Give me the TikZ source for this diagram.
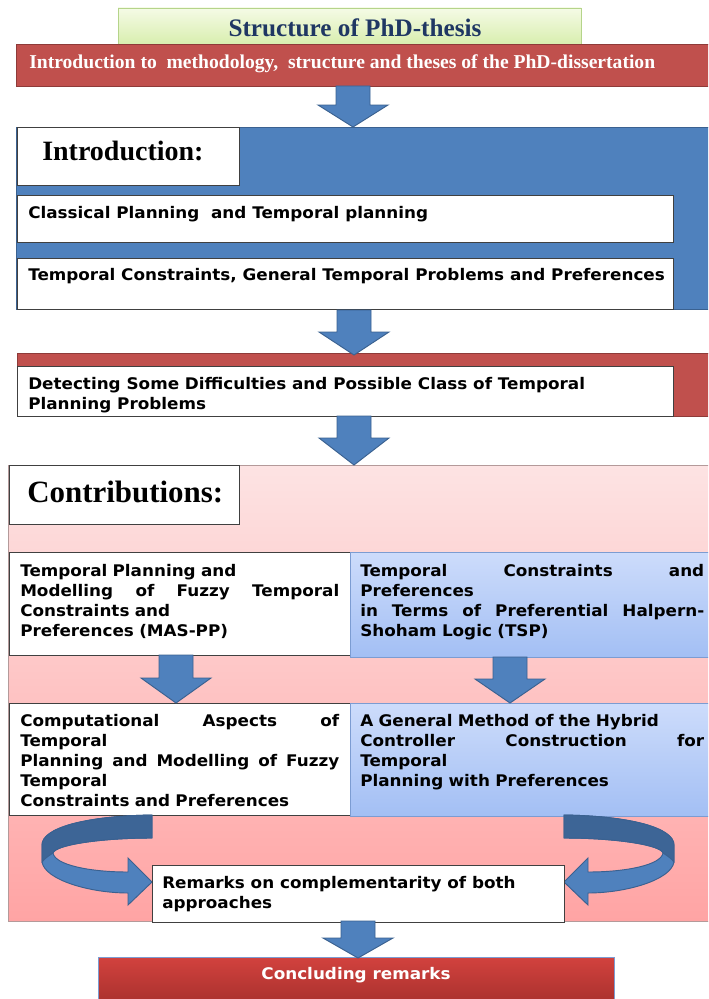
\documentclass[tikz,border=0pt]{standalone}
\usepackage{fontspec}
\setmainfont{DejaVu Sans}[FakeStretch=1.05]
\newfontfamily\serifb{Liberation Serif}
\usetikzlibrary{fit,shadows}
\definecolor{ablue}{HTML}{4F81BD}
\definecolor{abluedk}{HTML}{3A6190}
\definecolor{abackblue}{HTML}{3D6596}
\definecolor{tred}{HTML}{C0504D}
\definecolor{treddk}{HTML}{8E3B39}
\definecolor{navyt}{HTML}{1F3763}
\definecolor{gtop}{HTML}{F5FBE6}
\definecolor{gbot}{HTML}{D6EDAA}
\definecolor{gline}{HTML}{B5D48A}
\definecolor{ptop}{HTML}{FDE3E3}
\definecolor{pbot}{HTML}{FFA4A4}
\definecolor{pline}{HTML}{B49A9A}
\definecolor{btop}{HTML}{CDDCFB}
\definecolor{bbot}{HTML}{A3BFF4}
\definecolor{bline}{HTML}{7C9CD2}
\definecolor{ctop}{HTML}{D2423E}
\definecolor{cbot}{HTML}{A32E2B}
\newcommand\jl[2]{\leavevmode\hbox to #1{#2}}
\newcommand\barrow[4]{\path[barrowst] (#1-17,#2) -- (#1+17,#2) -- (#1+17,#3) -- (#1+35,#3) -- (#1,#4) -- (#1-35,#3) -- (#1-17,#3) -- cycle;}
\newcommand\curvarrow{%
  \path[cfront] (152,815) .. controls (85,816) and (42,828) .. (42,845) -- (42,862)
     .. controls (45,880) and (90,893) .. (128,893) -- (128,905) -- (152,882) -- (128,858) -- (128,872)
     .. controls (90,872) and (55,865) .. (53,853) .. controls (55,845) and (100,838) .. (152,838) -- cycle;
  \path[cback] (152,815) .. controls (85,816) and (42,828) .. (42,845) -- (42,862)
     .. controls (45,858) and (50,855) .. (53,853) .. controls (55,845) and (100,838) .. (152,838) -- cycle;}
\tikzset{
  body/.style={font=\fontsize{12}{15}\selectfont\bfseries, inner sep=0pt, anchor=north west, align=left},
  wbox/.style={draw=black!75, fill=white, inner sep=0pt, line width=0.6pt},
  bbox/.style={draw=bline, top color=btop, bottom color=bbot, inner sep=0pt, line width=0.6pt},
  barrowst/.style={fill=ablue, draw=abluedk, line width=0.7pt, line join=miter},
  cfront/.style={fill=ablue, draw=abluedk, line width=0.7pt},
  cback/.style={fill=abackblue, draw=abluedk, line width=0.7pt},
}
\begin{document}
\begin{tikzpicture}[x=0.75pt,y=-0.75pt]
\useasboundingbox (0,0) rectangle (708,999);
\clip (0,0) rectangle (708,999);
\fill[white] (0,0) rectangle (708,999);
% title
\node[fit={(118,8) (581,47)}, inner sep=0pt, draw=gline, line width=0.6pt, top color=gtop, bottom color=gbot] (titlebox) {};
\node[font=\serifb\bfseries\fontsize{18.9}{22}\selectfont, text=navyt, inner sep=0pt] (titletext) at (355,28) {Structure of PhD-thesis};
% red bar
\node[fit={(16,44) (716,86)}, inner sep=0pt, fill=tred, draw=treddk, line width=0.7pt] (redbar) {};
\node[font=\serifb\bfseries\fontsize{14.7}{17}\selectfont, text=white, inner sep=0pt, anchor=west] (redtext) at (29,64) {Introduction to~ methodology,~ structure and theses of the PhD-dissertation};
% introduction
\node[fit={(16,127) (716,309)}, inner sep=0pt, fill=ablue, draw=abluedk, line width=0.7pt] (intro) {};
\node[fit={(17,127) (239,185)}, wbox] (introbox) {};
\node[font=\serifb\bfseries\fontsize{21}{24}\selectfont, inner sep=0pt, anchor=west] (introtext) at (42,151) {Introduction:};
\node[fit={(17,195) (673,242)}, wbox] (classbox) {};
\node[body] (classtext) at (28,206) {Classical Planning~ and Temporal planning};
\node[fit={(17,258) (673,309)}, wbox] (tcbox) {};
\node[body] (tctext) at (28,268) {Temporal Constraints, General Temporal Problems and Preferences};
% detecting
\node[fit={(17,353) (716,416)}, inner sep=0pt, fill=tred, draw=treddk, line width=0.7pt] (redbox2) {};
\node[fit={(17,366) (673,416)}, wbox] (detbox) {};
\node[body] (dettext) at (28,377) {Detecting Some Difficulties and Possible Class of Temporal\\Planning Problems};
% contributions
\node[fit={(8,465) (716,921)}, inner sep=0pt, top color=ptop, bottom color=pbot, draw=pline, line width=0.6pt] (contrib) {};
\node[fit={(9,465) (239,524)}, wbox] (contribbox) {};
\node[font=\serifb\bfseries\fontsize{23.2}{26}\selectfont, inner sep=0pt, anchor=west] (contribtext) at (27,492) {Contributions:};
\node[fit={(9,552) (350,655)}, wbox] (L1) {};
\node[body, text width=239.25pt] (L1t) at (20,564) {Temporal Planning and\\\jl{239.25pt}{Modelling \hfill of \hfill Fuzzy \hfill Temporal}\\Constraints and\\Preferences (MAS-PP)};
\node[fit={(350,552) (716,657)}, bbox] (R1) {};
\node[body, text width=258pt] (R1t) at (360,564) {\jl{258pt}{Temporal \hfill Constraints \hfill and}\\Preferences\\\jl{258pt}{in \hfill Terms \hfill of \hfill Preferential \hfill Halpern-}\\Shoham Logic (TSP)};
\node[fit={(9,703) (350,815)}, wbox] (L2) {};
\node[body, text width=239.25pt] (L2t) at (20,714) {\jl{239.25pt}{Computational \hfill Aspects \hfill of}\\Temporal\\\jl{239.25pt}{Planning \hfill and \hfill Modelling \hfill of \hfill Fuzzy}\\Temporal\\Constraints and Preferences};
\node[fit={(350,703) (716,816)}, bbox] (R2) {};
\node[body, text width=258pt] (R2t) at (360,714) {A General Method of the Hybrid\\\jl{258pt}{Controller \hfill Construction \hfill for}\\Temporal\\Planning with Preferences};
% curved arrows
\curvarrow
\begin{scope}[shift={(716,0)}, xscale=-1]
\curvarrow
\end{scope}
\node[fit={(152,865) (564,922)}, wbox] (remarks) {};
\node[body] (remtext) at (162,876) {Remarks on complementarity of both\\approaches};
% concluding
\node[fit={(98,957) (614,1010)}, inner sep=0pt, top color=ctop, bottom color=cbot, draw=bline, line width=0.6pt] (concl) {};
\node[font=\fontsize{12}{15}\selectfont\bfseries, text=white, inner sep=0pt] (concltext) at (356,975) {Concluding remarks};
% block arrows
\barrow{353}{86}{105}{127}
\barrow{354}{310}{332}{355}
\barrow{354}{416}{438}{465}
\barrow{176}{655}{678}{703}
\barrow{510}{657}{679}{703}
\barrow{358}{921}{938}{958}
\end{tikzpicture}
\end{document}
